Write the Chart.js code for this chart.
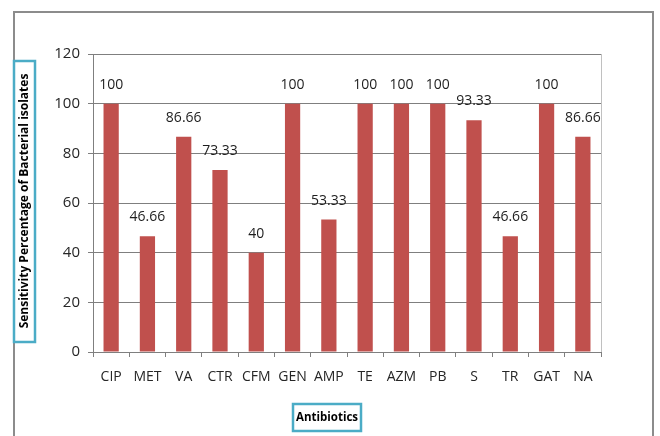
<!DOCTYPE html>
<html lang="en">
<head>
    <meta charset="UTF-8">
    <title>Antibiotic Sensitivity</title>
    <script src="https://cdn.jsdelivr.net/npm/chart.js"></script>
    <style>
        body {
            margin: 0;
            background-color: white;
        }
        .chart-box {
            width: 660px;
            height: 436px;
        }
    </style>
</head>
<body>
    <div class="chart-box">
        <canvas id="sensChart"></canvas>
    </div>

    <script>
        const antibiotics = ['CIP', 'MET', 'VA', 'CTR', 'CFM', 'GEN', 'AMP', 'TE', 'AZM', 'PB', 'S', 'TR', 'GAT', 'NA'];
        const sensitivity = [100, 46.66, 86.66, 73.33, 40, 100, 53.33, 100, 100, 100, 93.33, 46.66, 100, 86.66];
        const yMin = 0, yMax = 120, yStep = 20;

        const fontFam = '"Open Sans", sans-serif';
        const gridGray = '#7f7f7f';

        // frame, value labels and the boxed axis titles
        const decorPlugin = {
            id: 'decor',
            beforeDraw(chart) {
                const ctx = chart.ctx;
                ctx.save();
                ctx.fillStyle = 'white';
                ctx.fillRect(0, 0, chart.width, chart.height);
                ctx.strokeStyle = '#8c8c8c';
                ctx.lineWidth = 2;
                ctx.beginPath();
                ctx.moveTo(14, 440);
                ctx.lineTo(14, 12);
                ctx.lineTo(653, 12);
                ctx.lineTo(653, 440);
                ctx.stroke();
                ctx.restore();
            },
            afterDatasetsDraw(chart) {
                const ctx = chart.ctx;
                const area = chart.chartArea;
                ctx.save();
                // right edge of plot
                ctx.strokeStyle = '#c0c0c0';
                ctx.lineWidth = 1;
                ctx.beginPath();
                ctx.moveTo(area.right + 0.5, area.top);
                ctx.lineTo(area.right + 0.5, area.bottom);
                ctx.stroke();

                // value labels
                ctx.fillStyle = '#1e1e1e';
                ctx.font = '14px ' + fontFam;
                ctx.textAlign = 'center';
                ctx.textBaseline = 'middle';
                chart.getDatasetMeta(0).data.forEach((bar, i) => {
                    ctx.fillText(String(sensitivity[i]), bar.x, bar.y - 19);
                });

                // y title box
                ctx.fillStyle = 'white';
                ctx.strokeStyle = '#4bacc6';
                ctx.lineWidth = 2.5;
                ctx.fillRect(14, 61, 21, 281);
                ctx.strokeRect(14, 61, 21, 281);
                ctx.fillStyle = '#000';
                ctx.font = 'bold 12px ' + fontFam;
                ctx.translate(25, 201);
                ctx.rotate(-Math.PI / 2);
                ctx.fillText('Sensitivity Percentage of Bacterial isolates', 0, 0);
                ctx.restore();

                // x title box
                ctx.save();
                ctx.fillStyle = 'white';
                ctx.strokeStyle = '#4bacc6';
                ctx.lineWidth = 2.5;
                ctx.fillRect(293, 404, 68, 27);
                ctx.strokeRect(293, 404, 68, 27);
                ctx.fillStyle = '#000';
                ctx.font = 'bold 11.5px ' + fontFam;
                ctx.textAlign = 'center';
                ctx.textBaseline = 'middle';
                ctx.fillText('Antibiotics', 327, 418);
                ctx.restore();
            }
        };

        const ctx = document.getElementById('sensChart').getContext('2d');
        new Chart(ctx, {
            type: 'bar',
            data: {
                labels: antibiotics,
                datasets: [{
                    label: 'Sensitivity',
                    data: sensitivity,
                    backgroundColor: '#c0504d',
                    borderWidth: 0,
                    barPercentage: 0.42,
                    categoryPercentage: 1
                }]
            },
            options: {
                responsive: true,
                maintainAspectRatio: false,
                animation: false,
                devicePixelRatio: 1,
                layout: {
                    padding: { top: 54, right: 59, bottom: 0, left: 0 }
                },
                plugins: {
                    legend: { display: false },
                    tooltip: { enabled: false }
                },
                scales: {
                    y: {
                        min: yMin,
                        max: yMax,
                        afterFit(scale) { scale.width = 93; },
                        ticks: {
                            stepSize: yStep,
                            padding: 8,
                            color: '#262626',
                            font: { family: fontFam, size: 15 }
                        },
                        grid: {
                            color: gridGray,
                            tickLength: 5,
                            lineWidth: 1
                        },
                        border: { color: gridGray, width: 1 }
                    },
                    x: {
                        afterFit(scale) { scale.height = 84; },
                        ticks: {
                            padding: 12,
                            color: '#262626',
                            font: { family: fontFam, size: 14 }
                        },
                        grid: {
                            offset: true,
                            drawOnChartArea: false,
                            color: gridGray,
                            tickLength: 5
                        },
                        border: { color: gridGray, width: 1 }
                    }
                }
            },
            plugins: [decorPlugin]
        });
    </script>
</body>
</html>
